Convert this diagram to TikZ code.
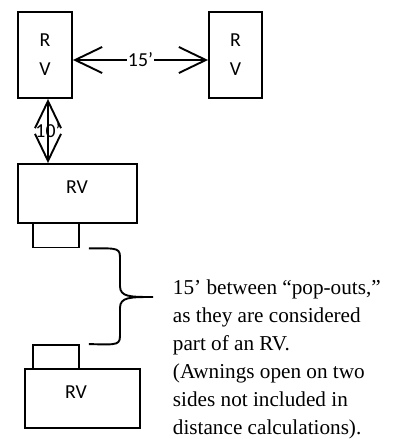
\documentclass[tikz,border=0pt]{standalone}
\usepackage{fontspec}
\setmainfont{Liberation Serif}
\newfontfamily\rvfont{Carlito}
\usetikzlibrary{arrows.meta}

\begin{document}
\begin{tikzpicture}[x=1pt,y=-1pt,line width=1.9pt,
                    >={Straight Barb[length=27pt,width=26pt]},
                    rv box/.style={draw,rectangle,inner sep=0pt,align=center,
                                   font=\rvfont\fontsize{19.8}{29}\selectfont},
                    pop box/.style={draw,rectangle,inner sep=0pt,
                                    minimum width=46pt,minimum height=24pt},
                    dist label/.style={font=\rvfont\fontsize{19.8}{24}\selectfont,inner sep=1pt}]
  \useasboundingbox (0,0) rectangle (393,439);

  \node[rv box,minimum width=54pt,minimum height=86pt] (rv1) at (45,55) {R\\V};
  \node[rv box,minimum width=53pt,minimum height=86pt] (rv2) at (235.5,55) {R\\V};
  \node[rv box,minimum width=119pt,minimum height=59pt] (rv3) at (77.5,193.5) {};
  \node[font=\rvfont\fontsize{19.8}{24}\selectfont] (rv3text) at (77,187) {RV};
  \node[pop box] (pop1) at (56,235.5) {};
  \node[pop box] (pop2) at (56,357) {};
  \node[rv box,minimum width=115pt,minimum height=59pt] (rv4) at (82.5,398.5) {};
  \node[font=\rvfont\fontsize{19.8}{24}\selectfont] (rv4text) at (76,392) {RV};

  % distances
  \draw[<->] ([yshift=-5pt]rv1.east) -- node[dist label,fill=white] (d15) {15’} ([yshift=-5pt]rv2.west);
  \coordinate (v1) at ([xshift=3pt]rv1.south);
  \draw[<->] (v1) -- node[dist label] (d10) {10’} (v1 |- rv3.north);

  % brace between the pop-outs
  \coordinate (b1) at ([xshift=9pt]pop1.south east);
  \coordinate (b2) at ([xshift=9pt]pop2.north east);
  \coordinate (tip) at (153,297);
  \draw (b1) .. controls (120,248) .. (120,260) -- (120,286)
        .. controls (120,297) and (130,297) .. (tip)
        .. controls (130,297) and (120,297) .. (120,308) -- (120,333)
        .. controls (120,345) .. (b2);

  \node[anchor=base west,inner sep=0pt,align=left,
        font=\fontsize{21.2}{28}\selectfont] (note) at (172,434)
    {15’ between “pop-outs,”\\
     as they are considered\\
     part of an RV.\\
     (Awnings open on two\\
     sides not included in\\
     distance calculations).};
\end{tikzpicture}
\end{document}
